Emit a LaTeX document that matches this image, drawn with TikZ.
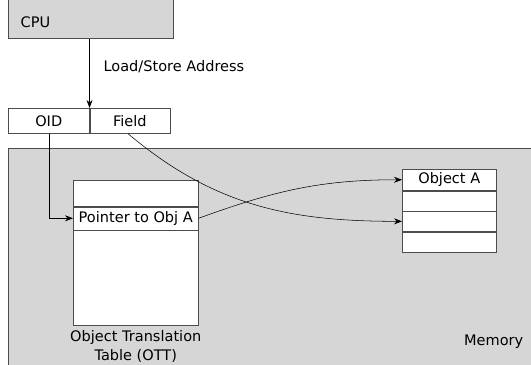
\documentclass[tikz,border=0pt]{standalone}
\usepackage{fontspec}
\setmainfont{DejaVu Sans}
\usetikzlibrary{positioning,arrows.meta}

\definecolor{memgray}{HTML}{D6D6D6}

\tikzset{
  cell/.style={draw=black!70, fill=white, inner sep=0pt, minimum width=#1},
  graybox/.style={draw=black!70, fill=memgray, inner sep=0pt},
  ptr/.style={-{Stealth[length=6pt,width=4.5pt]}, black}
}

\begin{document}
\begin{tikzpicture}[x=0.75pt, y=-0.75pt, font=\fontsize{10.9}{14.25}\selectfont]

\useasboundingbox (0,0) rectangle (531,364);

% Memory area
\node[graybox, anchor=north west, minimum width=405pt, minimum height=172pt] (mem) at (8,148) {};
\node[anchor=south east] (memlbl) at (528,353) {Memory};

% CPU
\node[graybox, anchor=south west, minimum width=123.75pt, minimum height=36pt] (cpu) at (8,39) {};
\node[anchor=west] (cpulbl) at (16,22) {CPU};

% Address split into OID and field
\node[cell=60.75pt, anchor=north west, minimum height=18.75pt] (oid) at (8,108) {OID};
\node[cell=60pt, anchor=west, minimum height=18.75pt] (field) at (oid.east) {Field};

\draw[ptr] (cpu.south -| oid.east) -- (oid.north east)
  node[pos=0.4, right=7pt] (lsa) {Load/Store Address};

% Object translation table
\node[cell=93.75pt, anchor=north west, minimum height=19.5pt] (ott1) at (73,180) {};
\node[cell=93.75pt, anchor=north, minimum height=17.25pt] (ott2) at (ott1.south) {Pointer to Obj A};
\node[cell=93.75pt, anchor=north, minimum height=71.25pt] (ott3) at (ott2.south) {};
\node[below=0pt of ott3, align=center] (ottlbl) {Object Translation\\Table (OTT)};

% Object A
\node[cell=70.5pt, anchor=north west, minimum height=15.75pt] (obj1) at (402,169) {Object A};
\node[cell=70.5pt, anchor=north, minimum height=15pt] (obj2) at (obj1.south) {};
\node[cell=70.5pt, anchor=north, minimum height=15pt] (obj3) at (obj2.south) {};
\node[cell=70.5pt, anchor=north, minimum height=15pt] (obj4) at (obj3.south) {};

% Lookups
\draw[ptr] (oid.south) |- (ott2.west);
\draw[ptr] (ott2.east) to[out=20, in=180] (obj1.west);
\draw[ptr] ([xshift=-1.5pt]field.south) to[out=-40, in=180] (obj3.west);

\end{tikzpicture}
\end{document}
